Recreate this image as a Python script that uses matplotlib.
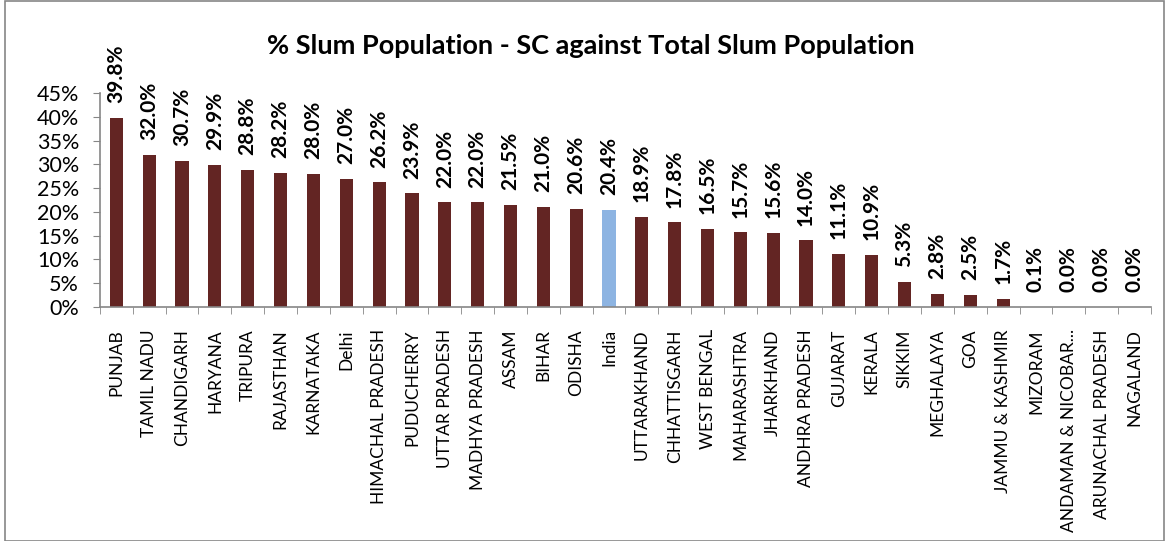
import numpy as np
import matplotlib.pyplot as plt
from matplotlib.patches import Rectangle

states = ['PUNJAB', 'TAMIL NADU', 'CHANDIGARH', 'HARYANA', 'TRIPURA', 'RAJASTHAN',
          'KARNATAKA', 'Delhi', 'HIMACHAL PRADESH', 'PUDUCHERRY', 'UTTAR PRADESH',
          'MADHYA PRADESH', 'ASSAM', 'BIHAR', 'ODISHA', 'India', 'UTTARAKHAND',
          'CHHATTISGARH', 'WEST BENGAL', 'MAHARASHTRA', 'JHARKHAND', 'ANDHRA PRADESH',
          'GUJARAT', 'KERALA', 'SIKKIM', 'MEGHALAYA', 'GOA', 'JAMMU & KASHMIR',
          'MIZORAM', 'ANDAMAN & NICOBAR...', 'ARUNACHAL PRADESH', 'NAGALAND']
sc_share = [39.8, 32.0, 30.7, 29.9, 28.8, 28.2, 28.0, 27.0, 26.2, 23.9, 22.0, 22.0,
            21.5, 21.0, 20.6, 20.4, 18.9, 17.8, 16.5, 15.7, 15.6, 14.0, 11.1, 10.9,
            5.3, 2.8, 2.5, 1.7, 0.1, 0.0, 0.0, 0.0]

plt.rcParams['font.family'] = ['Lato', 'DejaVu Sans']

fig = plt.figure(figsize=(11.69, 5.41), dpi=100)
ax = fig.add_axes([0.0855, 0.4325, 0.899, 0.3955])

colors = ['#8DB4E2' if s == 'India' else '#632523' for s in states]
x = np.arange(len(states))
ax.bar(x, sc_share, width=0.4, color=colors)

for xi, v in zip(x, sc_share):
    ax.text(xi, v + 3.1, f'{v:.1f}%', rotation=90, ha='center', va='bottom',
            fontsize=15, fontweight='bold')

ax.set_xlim(-0.5, len(states) - 0.5)
ax.set_ylim(0, 45)
ax.set_yticks(np.arange(0, 46, 5))
ax.set_yticklabels([f'{t}%' for t in range(0, 46, 5)], fontsize=15.5)
ax.set_xticks(x)
ax.set_xticklabels(states, rotation=90, fontsize=12.5)
ax.set_xticks(np.arange(-0.5, len(states), 1), minor=True)
ax.tick_params(axis='x', which='major', length=0, pad=16)
ax.tick_params(axis='x', which='minor', length=5, color='#868686', direction='out')
ax.tick_params(axis='y', length=5, color='#868686', direction='out', pad=10)

for side in ['top', 'right']:
    ax.spines[side].set_visible(False)
for side in ['left', 'bottom']:
    ax.spines[side].set_color('#868686')
    ax.spines[side].set_linewidth(1.2)

fig.text(0.505, 0.915, '% Slum Population - SC against Total Slum Population',
         ha='center', va='center', fontsize=19.5, fontweight='bold')

fig.patches.append(Rectangle((0.004, 0.0), 0.992, 0.999, transform=fig.transFigure,
                             fill=False, edgecolor='#868686', linewidth=1.2))

fig.savefig('out.png', dpi=100)
